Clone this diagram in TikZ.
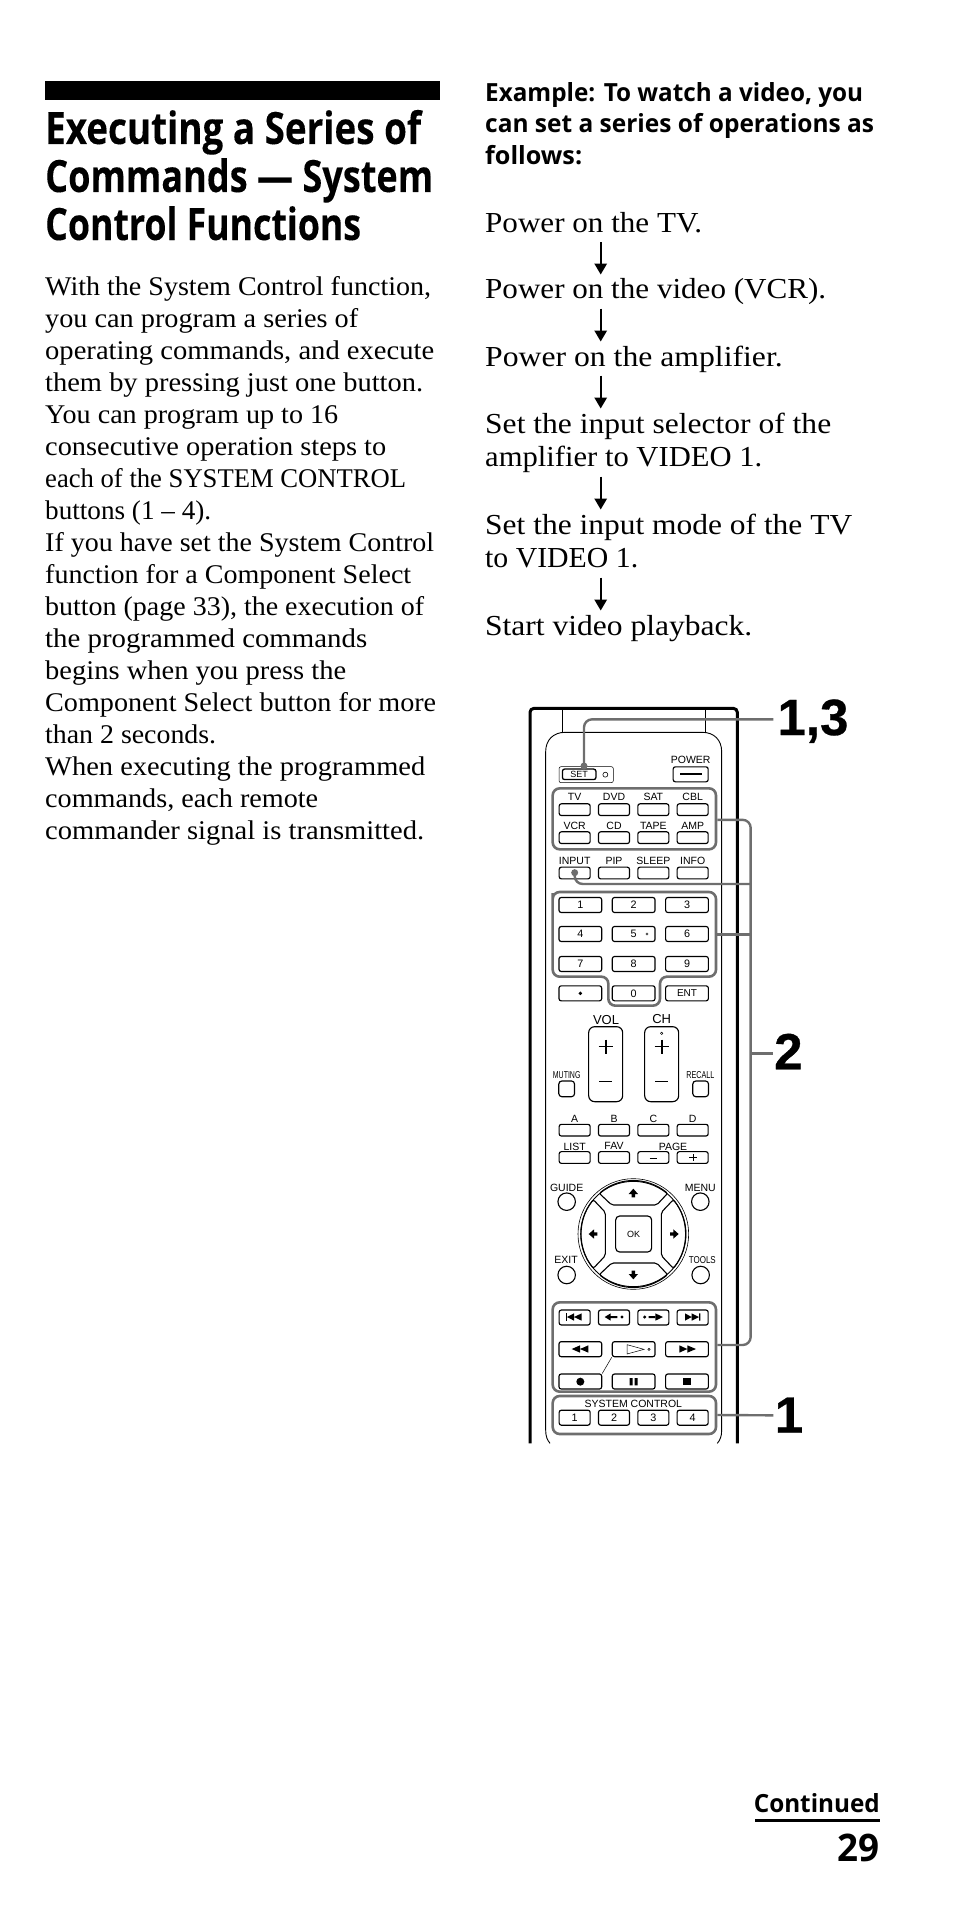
\documentclass[tikz,border=0pt]{standalone}
\usepackage{fontspec}
\usepackage{graphicx}
\usetikzlibrary{arrows.meta}
\setmainfont{Liberation Serif}
\newfontfamily\bodyf{Liberation Serif}
\newfontfamily\headf[BoldFeatures={FakeBold=0.2}]{Open Sans}
\newfontfamily\subf{Open Sans}
\newfontfamily\remf{Liberation Sans}
\newfontfamily\callf[BoldFeatures={FakeBold=0.6}]{Liberation Sans}
\newcommand{\rfs}[1]{\remf\fontsize{#1}{#1}\selectfont}
\newsavebox\fitbox
\newcommand{\fitto}[2]{\sbox\fitbox{#2}\pgfmathsetmacro\fitr{#1/(\the\wd\fitbox)}\scalebox{\fitr}[1]{\usebox\fitbox}}
\definecolor{leader}{HTML}{6E6E6E}
\tikzset{
 bodyline/.style={anchor=base west,inner sep=0,font=\bodyf\fontsize{27}{32}\selectfont},
 stepline/.style={anchor=base west,inner sep=0,font=\bodyf\fontsize{29}{32}\selectfont},
 titleline/.style={anchor=base west,inner sep=0,font=\headf\bfseries\fontsize{44.5}{48}\selectfont},
 subline/.style={anchor=base west,inner sep=0,font=\subf\bfseries\fontsize{25}{32}\selectfont},
 flow/.style={line width=1.6pt,-{Triangle[length=11pt,width=12.5pt]}},
 lbl/.style={anchor=base,inner sep=0,font=\rfs{10.5}},
 key/.style={draw=black,line width=1.15pt,rounded corners=2.2pt,inner sep=0,font=\rfs{10.8}},
 smallkey/.style={key,minimum width=31pt,minimum height=11.7pt},
 widekey/.style={key,minimum width=42.7pt,minimum height=15pt},
 syskey/.style={key,minimum width=31pt,minimum height=15pt},
 roundkey/.style={draw=black,line width=1.1pt,circle,inner sep=0,minimum size=17.5pt},
 grp/.style={draw=leader,line width=2.6pt,inner sep=0,rounded corners=7pt},
 lead/.style={draw=leader,line width=2.4pt,rounded corners=8pt},
 callout/.style={anchor=base west,inner sep=0,font=\callf\bfseries\fontsize{51}{51}\selectfont},
 ink/.style={fill=black,draw=none},
}
\begin{document}
\begin{tikzpicture}[x=1pt,y=-1pt]
\useasboundingbox (0,0) rectangle (954,1905);
\fill (45,81) rectangle (440,100);
% title
\node[titleline] (t1) at (45,144) {\fitto{376}{Executing a Series of}};
\node[titleline] (t2) at (45,192) {\fitto{388}{Commands — System}};
\node[titleline] (t3) at (45,240) {\fitto{316}{Control Functions}};
% body
\node[bodyline] (b1) at (45,295) {\fitto{386}{With the System Control function,}};
\node[bodyline] (b2) at (45,327) {\fitto{313}{you can program a series of}};
\node[bodyline] (b3) at (45,359) {\fitto{389}{operating commands, and execute}};
\node[bodyline] (b4) at (45,391) {\fitto{378}{them by pressing just one button.}};
\node[bodyline] (b5) at (45,423) {\fitto{293}{You can program up to 16}};
\node[bodyline] (b6) at (45,455) {\fitto{341}{consecutive operation steps to}};
\node[bodyline] (b7) at (45,487) {\fitto{361}{each of the SYSTEM CONTROL}};
\node[bodyline] (b8) at (45,519) {\fitto{166}{buttons (1 – 4).}};
\node[bodyline] (b9) at (45,551) {\fitto{389}{If you have set the System Control}};
\node[bodyline] (b10) at (45,583) {\fitto{366}{function for a Component Select}};
\node[bodyline] (b11) at (45,615) {\fitto{379}{button (page 33), the execution of}};
\node[bodyline] (b12) at (45,647) {\fitto{322}{the programmed commands}};
\node[bodyline] (b13) at (45,679) {\fitto{301}{begins when you press the}};
\node[bodyline] (b14) at (45,711) {\fitto{391}{Component Select button for more}};
\node[bodyline] (b15) at (45,743) {\fitto{171}{than 2 seconds.}};
\node[bodyline] (b16) at (45,775) {\fitto{380}{When executing the programmed}};
\node[bodyline] (b17) at (45,807) {\fitto{273}{commands, each remote}};
\node[bodyline] (b18) at (45,839) {\fitto{379}{commander signal is transmitted.}};
% example
\node[subline] (e1) at (485,102) {\fitto{378}{Example: To watch a video, you}};
\node[subline] (e2) at (485,133) {\fitto{389}{can set a series of operations as}};
\node[subline] (e3) at (485,165) {\fitto{97}{follows:}};
\node[stepline] (s1) at (485,232) {\fitto{217}{Power on the TV.}};
\node[stepline] (s2) at (485,298.5) {\fitto{341}{Power on the video (VCR).}};
\node[stepline] (s3) at (485,366.5) {\fitto{297.5}{Power on the amplifier.}};
\node[stepline] (s4) at (485,433.5) {\fitto{346}{Set the input selector of the}};
\node[stepline] (s4b) at (485,466.5) {\fitto{277}{amplifier to VIDEO 1.}};
\node[stepline] (s5) at (485,534.5) {\fitto{367}{Set the input mode of the TV}};
\node[stepline] (s5b) at (485,567.5) {\fitto{153}{to VIDEO 1.}};
\node[stepline] (s6) at (485,635.5) {\fitto{267}{Start video playback.}};
\draw[flow] ([shift={(115.7,10)}]s1.base west) -- ([shift={(115.7,-24)}]s2.base west);
\draw[flow] ([shift={(115.7,10)}]s2.base west) -- ([shift={(115.7,-25)}]s3.base west);
\draw[flow] ([shift={(115.7,9)}]s3.base west) -- ([shift={(115.7,-25)}]s4.base west);
\draw[flow] ([shift={(115.7,10)}]s4b.base west) -- ([shift={(115.7,-25)}]s5.base west);
\draw[flow] ([shift={(115.7,10)}]s5b.base west) -- ([shift={(115.7,-25)}]s6.base west);
% footer
\node[anchor=base east,inner sep=0,font=\subf\bfseries\fontsize{25}{30}\selectfont] (cont) at (880,1812) {\fitto{126}{Continued}};
\draw[line width=3pt] (755,1820.5) -- (880,1820.5);
\node[anchor=base east,inner sep=0,font=\subf\bfseries\fontsize{38}{40}\selectfont] (pg) at (880,1861) {\fitto{42}{29}};

% --- remote: zoom units, upper part
\begin{scope}[shift={(500pt,-680pt)},x=0.33333pt,y=-0.33333pt]
 \draw[line width=3pt,rounded corners=4pt] (90,2290) -- (90,85) -- (712,85) -- (712,2290);
 \draw[line width=0.8pt] (187,85) -- (187,157) (617,85) -- (617,157);
 \draw[line width=0.9pt] (150,2290) .. controls (142,2280) and (137,2270) .. (137,2250) -- (137,215) .. controls (137,180) and (160,157) .. (195,157) -- (607,157) .. controls (642,157) and (665,180) .. (665,215) -- (665,2250) .. controls (665,2270) and (660,2280) .. (652,2290);
 % set / power
 \node[draw=black,line width=0.5pt,rounded corners=2pt,minimum width=54.3pt,minimum height=16pt,inner sep=0] (setbox) at (258.5,284) {};
 \node[key,line width=1.3pt,minimum width=33.5pt,minimum height=10.5pt,font=\rfs{9}] (set) at (237.5,283) {SET};
 \node[draw=black,line width=0.6pt,circle,minimum size=5pt,inner sep=0] (led) at (316,284) {};
 \node[lbl] (lpow) at (572,249) {POWER};
 \node[key,minimum width=35pt,minimum height=15pt] (power) at (572,283) {};
 \draw[line width=1.1pt] (540,282) -- (605,282);
 % rows
 \foreach \nm/\cx/\ky/\ly/\tx in {tv/224/389/362/TV,dvd/342/389/362/DVD,sat/460/389/362/SAT,cbl/578/389/362/CBL,vcr/224/473/448/VCR,cd/342/473/448/CD,tape/460/473/448/TAPE,amp/578/473/448/AMP,input/224/579/552/INPUT,pip/342/579/552/PIP,sleep/460/579/552/SLEEP,info/578/579/552/INFO}{
  \node[smallkey] (k\nm) at (\cx,\ky) {};
  \node[lbl] (l\nm) at (\cx,\ly) {\tx};
 }
 % number pad
 \foreach \tx/\cx/\ky in {1/241/675,2/401/675,3/561/675,4/241/762,6/561/762,7/241/852,8/401/852,9/561/852,0/401/940}{
  \node[widekey] (n\tx) at (\cx,\ky) {\tx};
 }
 \node[widekey] (n5) at (401,762) {5};
 \node[draw=black,line width=0.4pt,circle,minimum size=2.2pt,inner sep=0] (n5dot) at (441,762) {};
 \node[widekey] (ndot) at (241,940) {};
 \node[ink,circle,minimum size=3.8pt,inner sep=0] (ndotm) at (241,940) {};
 \node[widekey,font=\rfs{10}] (ent) at (561,940) {ENT};
 % groups
 \node[grp,minimum width=163.3pt,minimum height=61pt] (g1) at (403,416.5) {};
 \draw[leader,line width=2.6pt,rounded corners=7pt] (158,660) -- (158,890) -- (325,890) -- (325,977) -- (480,977) -- (480,890) -- (648,890) -- (648,636) -- (158,636) -- cycle;
 \coordinate (g2e) at (648,764);
 \node[callout,anchor=base west] (c13) at (832,165) {1,3};
 \coordinate (c13end) at (820,118);
 \node[draw=none,fill=leader,circle,inner sep=0,minimum size=7pt] (setdot) at (252,258) {};
 \draw[lead] (c13end) -| (setdot.center);
 \node[draw=none,fill=leader,circle,inner sep=0,minimum size=7pt] (inputdot) at (224,578) {};
 \coordinate (bus) at (752,1200);
 \draw[lead] (inputdot.center) |- (752,612);
 \draw[lead,rounded corners=0pt] (g2e) -- (752,764);
\end{scope}

% --- remote: middle part
\begin{scope}[shift={(500pt,-1000pt)},x=0.33333pt,y=-0.33333pt]
 \node[lbl,font=\rfs{13}] (lvol) at (318,72) {VOL};
 \node[lbl,font=\rfs{13}] (lch) at (485,70) {CH};
 \node[key,rounded corners=6pt,minimum width=34pt,minimum height=75pt] (vol) at (317,192.5) {};
 \node[key,rounded corners=6pt,minimum width=34pt,minimum height=75pt] (ch) at (485,192.5) {};
 \draw[line width=1.3pt] (296,140) -- (340,140) (318,119) -- (318,161) (298,245) -- (337,245);
 \draw[line width=1.3pt] (464,140) -- (508,140) (486,119) -- (486,161) (466,245) -- (505,245);
 \node[draw=black,line width=0.5pt,circle,minimum size=2.4pt,inner sep=0] (chdot) at (485,100) {};
 \node[lbl,font=\rfs{10}] (lmute) at (200,235) {\scalebox{0.7}[1]{MUTING}};
 \node[lbl,font=\rfs{10}] (lrecall) at (601,235) {\scalebox{0.72}[1]{RECALL}};
 \node[key,rounded corners=3pt,minimum size=15.7pt] (mute) at (200,266.5) {};
 \node[key,rounded corners=3pt,minimum size=15.7pt] (recall) at (602,266.5) {};
 \foreach \nm/\cx/\tx in {a/224/A,b/342/B,c/460/C,d/578/D}{
  \node[smallkey] (k\nm) at (\cx,390.5) {};
  \node[lbl] (l\nm) at (\cx,367) {\tx};
 }
 \node[smallkey] (klist) at (224,472.5) {};
 \node[smallkey] (kfav) at (342,472.5) {};
 \node[smallkey] (kpm) at (460,472.5) {};
 \node[smallkey] (kpp) at (578,472.5) {};
 \node[lbl] (llist) at (224,450) {LIST};
 \node[lbl] (lfav) at (342,447) {FAV};
 \node[lbl] (lpage) at (519,450) {PAGE};
 \draw[line width=0.8pt] (449,474) -- (472,474) (568,473) -- (591,473) (579.5,462) -- (579.5,484);
 \node[lbl] (lguide) at (200,573) {GUIDE};
 \node[lbl] (lmenu) at (601,573) {MENU};
 \node[roundkey] (guide) at (200,605) {};
 \node[roundkey] (menu) at (601,605) {};
 \node[lbl] (lexit) at (198,790) {EXIT};
 \node[lbl,font=\rfs{10}] (ltools) at (607,790) {\scalebox{0.8}[1]{TOOLS}};
 \node[roundkey] (exit) at (200,825) {};
 \node[roundkey] (tools) at (602,825) {};
 % D-pad
 \draw[line width=0.6pt] (400,702) circle[radius=166];
 \draw[line width=0.9pt] (400,702) circle[radius=158];
 \draw[line width=1.1pt,rounded corners=2pt] (298,580) .. controls (360,530) and (440,530) .. (503,580) -- (470,615) -- (335,615) -- cycle;
 \draw[line width=1.1pt,rounded corners=2pt] (298,824) .. controls (360,874) and (440,874) .. (503,824) -- (470,789) -- (335,789) -- cycle;
 \draw[line width=1.1pt,rounded corners=2pt] (280,599) .. controls (232,660) and (232,744) .. (280,805) -- (316,767) -- (316,637) -- cycle;
 \draw[line width=1.1pt,rounded corners=2pt] (520,599) .. controls (568,660) and (568,744) .. (520,805) -- (484,767) -- (484,637) -- cycle;
 \node[key,rounded corners=4pt,minimum size=36pt,font=\rfs{9}] (ok) at (401,702) {OK};
 \fill (400,566) -- (386,582) -- (395,582) -- (395,592) -- (405,592) -- (405,582) -- (414,582) -- cycle;
 \fill (400,838) -- (386,822) -- (395,822) -- (395,812) -- (405,812) -- (405,822) -- (414,822) -- cycle;
 \fill (266,702) -- (282,688) -- (282,697) -- (292,697) -- (292,707) -- (282,707) -- (282,716) -- cycle;
 \fill (536,702) -- (520,688) -- (520,697) -- (510,697) -- (510,707) -- (520,707) -- (520,716) -- cycle;
\end{scope}

% --- remote: lower part
\begin{scope}[shift={(500pt,-1260pt)},x=0.33333pt,y=-0.33333pt]
 \foreach \nm/\cx in {r/224,bk/342,fw/460,nx/578}{
  \node[key,minimum width=31pt,minimum height=15pt] (t\nm) at (\cx,172.5) {};
 }
 \foreach \nm/\cx in {rw/241,pl/401,ff/561}{
  \node[widekey] (t\nm) at (\cx,267.5) {};
 }
 \foreach \nm/\cx in {rec/241,pa/401,st/561}{
  \node[widekey] (t\nm) at (\cx,364.5) {};
 }
 \draw[line width=0.5pt] (tpl.south west) -- (trec.north east);
 \fill (197,160) rectangle (201,182);
 \fill (201,171) -- (222,160) -- (222,182) -- cycle (222,171) -- (245,160) -- (245,182) -- cycle;
 \fill (314,171) -- (332,160) -- (332,182) -- cycle (332,168) rectangle (352,174);
 \fill (366,171) circle[radius=5];
 \fill (434,171) circle[radius=5] (446,168) rectangle (466,174);
 \fill (466,160) -- (489,171) -- (466,182) -- cycle;
 \fill (555,160) -- (575,171) -- (555,182) -- cycle (575,160) -- (597,171) -- (575,182) -- cycle (597,160) rectangle (601,182);
 \fill (215,267) -- (240,256) -- (240,278) -- cycle (240,267) -- (265,256) -- (265,278) -- cycle;
 \fill (538,256) -- (562,267) -- (538,278) -- cycle (562,256) -- (588,267) -- (562,278) -- cycle;
 \draw[line width=0.5pt] (381,254) -- (432,268) -- (381,282) -- cycle;
 \draw[line width=0.5pt] (447,268) circle[radius=3.5];
 \fill (241,365) circle[radius=12];
 \fill (389,354) rectangle (398,376) (404,354) rectangle (413,376);
 \fill (550,354) rectangle (572,376);
 \node[lbl] (lsys) at (400,442) {SYSTEM CONTROL};
 \foreach \tx/\cx in {1/224,2/342,3/460,4/578}{
  \node[syskey] (sc\tx) at (\cx,473) {\tx};
 }
 \node[grp,minimum width=163.3pt,minimum height=89.3pt] (g3) at (403,261) {};
 \node[grp,minimum width=163.3pt,minimum height=38pt] (g4) at (403,465) {};
 \node[callout] (c1) at (824,518) {1};
 \coordinate (c1end) at (820,466);
 \draw[lead,rounded corners=0pt] (g4.east) -- (c1end);
\end{scope}
\draw[lead] ([yshift=-1pt]g1.east) -| (bus) |- ([yshift=2pt]g3.east);
\begin{scope}[shift={(500pt,-1000pt)},x=0.33333pt,y=-0.33333pt]
 \node[callout] (c2) at (822,208) {2};
 \coordinate (c2end) at (757,160);
 \draw[lead,rounded corners=0pt] (c2end) -- (820,160);
\end{scope}
\end{tikzpicture}
\end{document}
